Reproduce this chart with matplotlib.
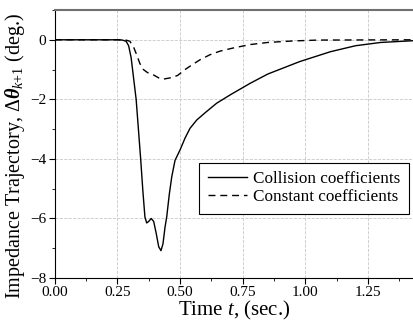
import numpy as np
import matplotlib
matplotlib.use("Agg")
import matplotlib.pyplot as plt
from matplotlib.ticker import MultipleLocator

plt.rcParams['font.family'] = ['Liberation Serif', 'DejaVu Serif']
plt.rcParams['mathtext.fontset'] = 'custom'
plt.rcParams['mathtext.rm'] = 'Liberation Serif'
plt.rcParams['mathtext.it'] = 'Liberation Serif:italic'
plt.rcParams['mathtext.bf'] = 'Liberation Serif:bold:italic'

# collision coefficients (solid)
t_col = [0, 0.25, 0.27, 0.285, 0.295, 0.305, 0.315, 0.325, 0.334, 0.343, 0.352, 0.36,
         0.367, 0.375, 0.385, 0.395, 0.405, 0.415, 0.424, 0.432, 0.44, 0.447, 0.457,
         0.467, 0.48, 0.5, 0.52, 0.54, 0.567, 0.6, 0.646, 0.7, 0.78, 0.85, 0.978,
         1.1, 1.2, 1.3, 1.433]
y_col = [0, 0, -0.01, -0.05, -0.2, -0.6, -1.3, -2.0, -3.0, -4.0, -5.1, -5.95,
         -6.15, -6.1, -6.0, -6.1, -6.5, -6.95, -7.08, -6.85, -6.3, -5.94, -5.2,
         -4.6, -4.05, -3.7, -3.3, -2.97, -2.69, -2.45, -2.13, -1.85, -1.46, -1.15, -0.73,
         -0.4, -0.2, -0.09, -0.03]

# constant coefficients (dashed)
t_con = [0, 0.28, 0.3, 0.315, 0.327, 0.34, 0.354, 0.37, 0.394, 0.415, 0.434, 0.46,
         0.49, 0.52, 0.55, 0.58, 0.62, 0.66, 0.71, 0.78, 0.85, 0.95, 1.05, 1.433]
y_con = [0, 0, -0.05, -0.25, -0.5, -0.8, -1.0, -1.1, -1.18, -1.28, -1.32, -1.28,
         -1.2, -1.0, -0.83, -0.67, -0.5, -0.38, -0.28, -0.16, -0.09, -0.04, -0.01, 0]

fig = plt.figure(figsize=(4.14, 3.33), dpi=100)
ax = fig.add_axes([0.132, 0.165, 0.868, 0.805])

ax.plot(t_col, y_col, 'k-', lw=1.0, label='Collision coefficients')
ax.plot(t_con, y_con, 'k', ls=(0, (5, 3.5)), lw=1.0, label='Constant coefficients')

ax.set_xlim(0, 1.433)
ax.set_ylim(-8, 1)
ax.xaxis.set_major_locator(MultipleLocator(0.25))
ax.xaxis.set_minor_locator(MultipleLocator(0.125))
ax.yaxis.set_major_locator(MultipleLocator(2))
ax.yaxis.set_minor_locator(MultipleLocator(1))
ax.xaxis.set_major_formatter(matplotlib.ticker.FormatStrFormatter('%.2f'))
ax.tick_params(which='both', direction='out', labelsize=11, pad=2)
ax.tick_params(which='major', length=4)
ax.tick_params(which='minor', length=2.5)
ax.grid(True, which='major', ls='--', color='#c8c8c8', lw=0.6)
ax.spines['top'].set_color('#707070')
ax.spines['top'].set_linewidth(1.5)

ax.set_xlabel('Time $\\mathit{t}$, (sec.)', fontsize=15, labelpad=0)
ax.set_ylabel('Impedance Trajectory, $\\Delta\\mathbf{\\theta}_{k{+}1}$ (deg.)', fontsize=14.5)
ax.yaxis.set_label_coords(-0.077, 0.455)

leg = ax.legend(loc='lower right', bbox_to_anchor=(0.986, 0.239), fontsize=12.3,
                fancybox=False, edgecolor='black', framealpha=1, handlelength=2.3,
                borderpad=0.5, labelspacing=0.12, handletextpad=0.35, borderaxespad=0)
leg.get_frame().set_linewidth(0.8)

plt.savefig("out.png", dpi=100)
